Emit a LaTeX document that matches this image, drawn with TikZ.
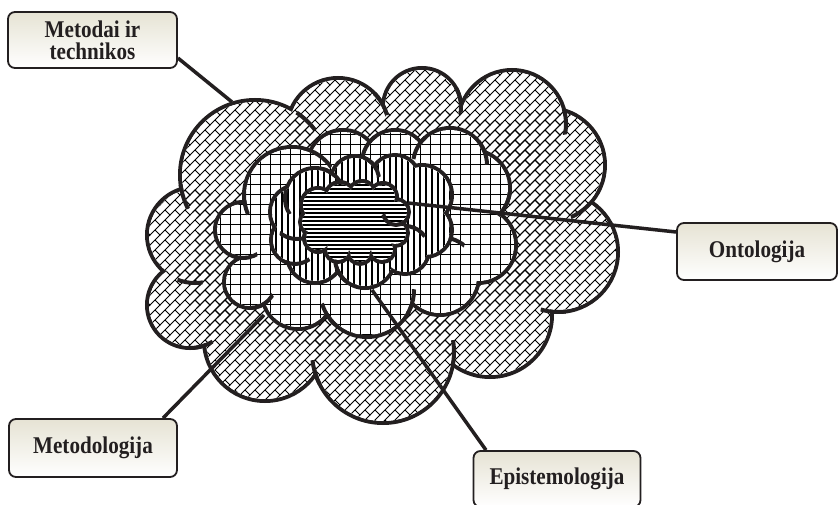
\documentclass[tikz,border=0pt]{standalone}
\usepackage{fontspec}
\setmainfont{Liberation Serif}
\newfontfamily\boxfont[FakeStretch=0.88]{Liberation Serif}
\usetikzlibrary{patterns,calc}
\definecolor{ink}{HTML}{231F20}
\definecolor{beige}{RGB}{230,227,212}

\pgfdeclarepatternformonly{dbrick}{\pgfqpoint{-1pt}{-1pt}}{\pgfqpoint{11pt}{11pt}}{\pgfqpoint{10pt}{10pt}}{%
  \pgfsetlinewidth{0.9pt}%
  \pgfpathmoveto{\pgfqpoint{-0.6pt}{-0.6pt}}\pgfpathlineto{\pgfqpoint{10.6pt}{10.6pt}}%
  \pgfpathmoveto{\pgfqpoint{10pt}{0pt}}\pgfpathlineto{\pgfqpoint{5pt}{5pt}}%
  \pgfusepath{stroke}}
\pgfdeclarepatternformonly{gridp}{\pgfqpoint{-1pt}{-1pt}}{\pgfqpoint{11pt}{11pt}}{\pgfqpoint{10pt}{10pt}}{%
  \pgfsetlinewidth{1pt}%
  \pgfpathmoveto{\pgfqpoint{0pt}{-1pt}}\pgfpathlineto{\pgfqpoint{0pt}{11pt}}%
  \pgfpathmoveto{\pgfqpoint{-1pt}{0pt}}\pgfpathlineto{\pgfqpoint{11pt}{0pt}}%
  \pgfusepath{stroke}}
\pgfdeclarepatternformonly{vlines}{\pgfqpoint{-1pt}{-1pt}}{\pgfqpoint{7pt}{7pt}}{\pgfqpoint{6pt}{6pt}}{%
  \pgfsetlinewidth{1.3pt}%
  \pgfpathmoveto{\pgfqpoint{0pt}{-1pt}}\pgfpathlineto{\pgfqpoint{0pt}{7pt}}%
  \pgfusepath{stroke}}
\pgfdeclarepatternformonly{hlines}{\pgfqpoint{-1pt}{-1pt}}{\pgfqpoint{5pt}{5pt}}{\pgfqpoint{4pt}{4pt}}{%
  \pgfsetlinewidth{1.2pt}%
  \pgfpathmoveto{\pgfqpoint{-1pt}{0pt}}\pgfpathlineto{\pgfqpoint{5pt}{0pt}}%
  \pgfusepath{stroke}}

\tikzset{
  cloudline/.style={draw=ink,line width=4pt},
  conn/.style={draw=ink,line width=3.5pt},
  labelbox/.style={draw=ink,line width=1.8pt,rounded corners=7pt,top color=beige,middle color=white,bottom color=white,
    font=\boxfont\fontsize{24}{22}\selectfont\bfseries,text=ink,align=center,inner sep=0pt},
}

\newcommand\mycloud[3]{%
  \foreach \cx/\cy/\rr in {#1}{\draw[cloudline] (\cx,\cy) circle[radius=\rr];}
  \foreach \cx/\cy/\rr in {#1}{\fill[white] (\cx,\cy) circle[radius=\rr-2];}
  \fill[white] #2;
  \foreach \cx/\cy/\rr in {#1}{\fill[pattern=#3] (\cx,\cy) circle[radius=\rr-2];}
  \fill[pattern=#3] #2;
}
\newcommand\myhook[4]{%
  \begin{scope}\clip (#4) circle[radius=13];\draw[cloudline] (#1,#2) circle[radius=#3];\end{scope}}

\begin{document}
\begin{tikzpicture}[x=1pt,y=-1pt]
\useasboundingbox (0,0) rectangle (839,505);

% outer cloud
\mycloud{255/175/75,338/129/51,422/107/39,512/124/54,548/165/57,558/252/60,490/315/62,383/352/71,265/340/61,190/305/43,195/235/48}
  {(255,175)--(338,129)--(422,107)--(512,124)--(548,165)--(558,252)--(490,315)--(383,352)--(265,340)--(190,305)--(195,235)--cycle}{dbrick}
\myhook{255}{175}{75}{183,197}
\myhook{255}{175}{75}{307,120}
\myhook{338}{129}{51}{383,103}
\myhook{422}{107}{39}{460,100}
\myhook{512}{124}{54}{563,122}
\myhook{548}{165}{57}{583,213}
\myhook{558}{252}{60}{553,313}
\myhook{383}{352}{71}{453,353}
\myhook{383}{352}{71}{313,373}
\myhook{190}{305}{43}{201,347}
\myhook{195}{235}{48}{190,282}

% grid cloud
\mycloud{292/195/48,343/166/36,395/163/33,450/165/37,472/188/38,478/245/38,440/276/39,367/290/47,298/293/36,250/282/26,243/230/28}
  {(292,195)--(343,166)--(395,163)--(450,165)--(472,188)--(478,245)--(440,276)--(367,290)--(298,293)--(250,282)--(243,230)--cycle}{gridp}
\myhook{292}{195}{48}{242,203}
\myhook{243}{230}{28}{245,258}
\myhook{250}{282}{26}{262,302}
\myhook{367}{290}{47}{328,315}
\myhook{367}{290}{47}{413,302}
\myhook{440}{276}{39}{452,242}
\myhook{472}{188}{38}{505,205}
\myhook{450}{165}{37}{485,152}
\myhook{450}{165}{37}{418,147}
\myhook{395}{163}{33}{370,148}
\myhook{292}{195}{48}{322,158}

% vertical-lines cloud
\mycloud{315/198/30,355/180/24,395/180/25,422/195/30,425/230/27,405/250/24,365/258/30,315/255/28,295/240/24,297/212/27}
  {(315,198)--(355,180)--(395,180)--(422,195)--(425,230)--(405,250)--(365,258)--(315,255)--(295,240)--(297,212)--cycle}{vlines}
\myhook{315}{198}{30}{333,177}
\myhook{355}{180}{24}{375,165}
\myhook{405}{250}{24}{415,228}
\myhook{365}{258}{30}{338,275}
\myhook{295}{240}{24}{298,265}
\myhook{297}{212}{27}{292,237}
\myhook{315}{198}{30}{285,202}

% inner cloud
\mycloud{318/205/17,340/197/15,362/195/14,383/197/14,396/212/13,395/233/13,382/249/13,360/252/12,338/249/13,318/238/14,313/222/13}
  {(318,205)--(340,197)--(362,195)--(383,197)--(396,212)--(395,233)--(382,249)--(360,252)--(338,249)--(318,238)--(313,222)--cycle}{hlines}
\myhook{396}{212}{13}{390,225}

% connector end points on the clouds
\coordinate (cm) at (232,102);
\coordinate (co) at (408,203);
\coordinate (cg) at (264,315);
\coordinate (ce) at (372,290);

% label boxes
\node[labelbox,minimum width=169pt,minimum height=56pt] (mt) at (92.5,40) {Metodai ir\\technikos};
\node[labelbox,minimum width=160pt,minimum height=57pt] (on) at (757,251.5) {Ontologija};
\node[labelbox,minimum width=168pt,minimum height=58pt] (mg) at (93,448) {Metodologija};
\node[labelbox,minimum width=167pt,minimum height=56pt] (ep) at (557,479) {Epistemologija};

% connectors
\draw[conn] ([yshift=-18pt]mt.east) -- (cm);
\draw[conn] ([yshift=19.5pt]on.west) -- (co);
\draw[conn] ([xshift=70pt]mg.north) -- (cg);
\draw[conn] ([xshift=-71pt]ep.north) -- (ce);
\end{tikzpicture}
\end{document}
